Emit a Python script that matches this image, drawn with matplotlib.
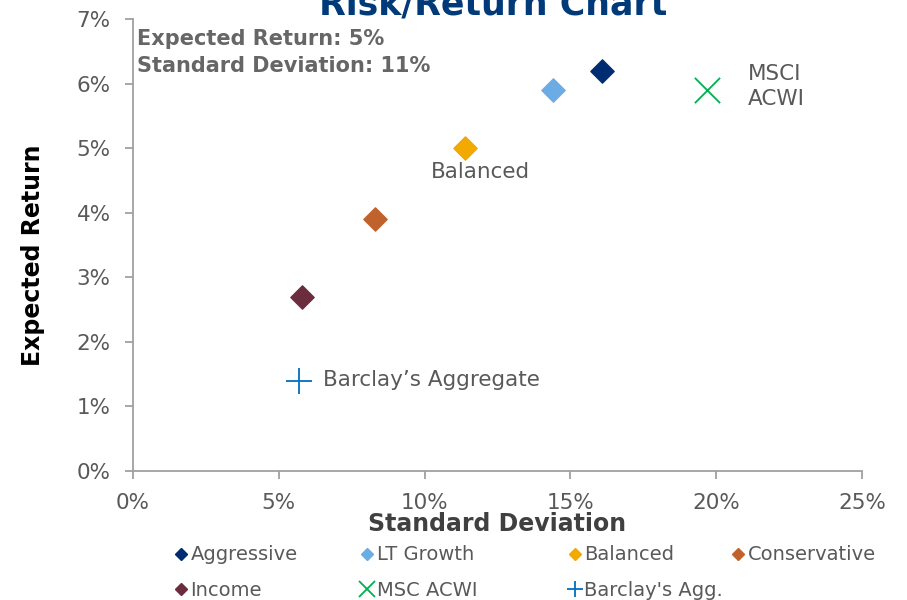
import matplotlib.pyplot as plt
from matplotlib.lines import Line2D
from matplotlib.ticker import FuncFormatter

# portfolio risk / return points (in %)
names = ['Aggressive', 'LT Growth', 'Balanced', 'Conservative', 'Income', 'MSC ACWI', "Barclay's Agg."]
std_dev = [16.1, 14.4, 11.4, 8.3, 5.8, 19.7, 5.7]
exp_ret = [6.2, 5.9, 5.0, 3.9, 2.7, 5.9, 1.4]
colors = ['#002D72', '#6CACE4', '#F2A900', '#C0622B', '#6B2C3E', '#00B050', '#0070C0']
markers = ['D', 'D', 'D', 'D', 'D', 'x', '+']

x_ticks = [0, 5, 10, 15, 20, 25]
y_ticks = [0, 1, 2, 3, 4, 5, 6, 7]

plt.rcParams['font.family'] = ['DejaVu Sans']

fig = plt.figure(figsize=(9.07, 6), dpi=100)
ax = fig.add_axes([0.1466, 0.215, 0.8038, 0.7533])

for n, x, y, c, m in zip(names, std_dev, exp_ret, colors, markers):
    if m == 'D':
        ax.scatter(x, y, marker=m, s=140, color=c, zorder=3)
    else:
        ax.scatter(x, y, marker=m, s=330, color=c, linewidths=1.3, zorder=3)

ax.set_xlim(0, 25)
ax.set_ylim(0, 7)
ax.set_xticks(x_ticks)
ax.set_yticks(y_ticks)
pct = FuncFormatter(lambda v, p: '%d%%' % v)
ax.xaxis.set_major_formatter(pct)
ax.yaxis.set_major_formatter(pct)

for s in ['top', 'right']:
    ax.spines[s].set_visible(False)
for s in ['left', 'bottom']:
    ax.spines[s].set_color('#A0A0A0')
    ax.spines[s].set_linewidth(1.3)
ax.tick_params(colors='#A0A0A0', labelcolor='#595959', labelsize=15.5, length=6, width=1.3)
ax.tick_params(axis='x', pad=10)
ax.tick_params(axis='y', pad=10)

ax.set_xlabel('Standard Deviation', fontsize=17, fontweight='bold', color='#404040')
ax.set_ylabel('Expected Return', fontsize=17, fontweight='bold', color='#000000')
ax.xaxis.set_label_coords(0.5, -0.091)
ax.yaxis.set_label_coords(-0.121, 0.478)

# point labels
lab = dict(fontsize=15.5, color='#595959')
ax.text(11.93, 4.63, 'Balanced', ha='center', va='center', **lab)
ax.text(21.1, 5.96, 'MSCI\nACWI', ha='left', va='center', linespacing=1.3, **lab)
ax.text(6.52, 1.41, 'Barclay\u2019s Aggregate', ha='left', va='center', **lab)

ax.text(0.13, 6.69, 'Expected Return: 5%', fontsize=15, fontweight='bold', color='#666666', va='center')
ax.text(0.13, 6.27, 'Standard Deviation: 11%', fontsize=15, fontweight='bold', color='#666666', va='center')

fig.text(0.544, 1 - 14 / 600, 'Risk/Return Chart', fontsize=25, fontweight='bold', color='#003A78',
         ha='center', va='baseline')

# legend: four columns placed like the original
def handle(i):
    if markers[i] == 'D':
        return Line2D([], [], ls='none', marker='D', ms=6, color=colors[i])
    return Line2D([], [], ls='none', marker=markers[i], ms=11, mew=1.3, color=colors[i])

columns = [[0, 4], [1, 5], [2, 6], [3]]
col_x = [0.193, 0.398, 0.627, 0.807]
for idx, cx in zip(columns, col_x):
    leg = fig.legend([handle(i) for i in idx], [names[i] for i in idx], loc='upper left',
                     bbox_to_anchor=(cx, 0.091), frameon=False, fontsize=14, borderpad=0,
                     borderaxespad=0, handlelength=0.6, handletextpad=0.2, labelspacing=0.85)
    for t in leg.get_texts():
        t.set_color('#595959')

fig.savefig('out.png', dpi=100)
